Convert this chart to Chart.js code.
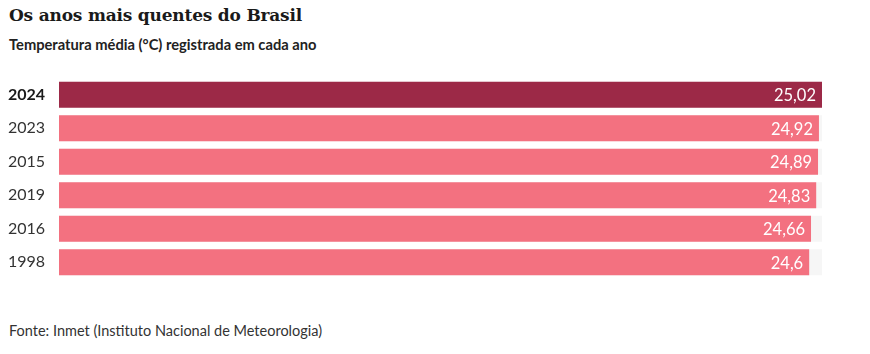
<!DOCTYPE html>
<html>
<head>
<meta charset="utf-8">
<script src="https://cdn.jsdelivr.net/npm/chart.js@4"></script>
<style>
  body { margin: 0; background: #fff; width: 870px; height: 354px; overflow: hidden; position: relative; }
  #title { position: absolute; left: 9px; top: 5px; font-family: "DejaVu Serif", serif; font-weight: bold; font-size: 17px; color: #1a1a1a; letter-spacing: -0.2px; }
  #subtitle { position: absolute; left: 9px; top: 35px; font-family: Lato, sans-serif; font-weight: bold; font-size: 14.7px; color: #222; }
  #source { position: absolute; left: 9px; top: 322px; font-family: Lato, sans-serif; font-size: 14.5px; color: #333; }
  #wrap { position: absolute; left: 0; top: 78px; width: 870px; height: 201px; }
</style>
</head>
<body>
<div id="title">Os anos mais quentes do Brasil</div>
<div id="subtitle">Temperatura média (°C) registrada em cada ano</div>
<div id="wrap"><canvas id="chart"></canvas></div>
<div id="source">Fonte: Inmet (Instituto Nacional de Meteorologia)</div>
<script>
// Data
const years = ["2024", "2023", "2015", "2019", "2016", "1998"];
const temps = [25.02, 24.92, 24.89, 24.83, 24.66, 24.6];
const labelsText = ["25,02", "24,92", "24,89", "24,83", "24,66", "24,6"];
const trackMax = 25.02;

const highlight = "#9c2947";
const normal = "#f37180";

// draws the value inside the right end of each bar
const valueLabels = {
  id: "valueLabels",
  afterDatasetsDraw(chart) {
    const ctx = chart.ctx;
    const meta = chart.getDatasetMeta(1);
    ctx.save();
    ctx.font = "16.5px Lato, sans-serif";
    ctx.fillStyle = "#fff";
    ctx.textAlign = "right";
    ctx.textBaseline = "middle";
    meta.data.forEach((bar, i) => {
      ctx.fillText(labelsText[i], bar.x - 6, bar.y + 1);
    });
    ctx.restore();
  }
};

new Chart(document.getElementById("chart"), {
  type: "bar",
  data: {
    labels: years,
    datasets: [
      {
        // light gray track behind the bars
        data: years.map(() => trackMax),
        backgroundColor: "#f6f6f6",
        order: 2
      },
      {
        data: temps,
        backgroundColor: years.map((y, i) => i === 0 ? highlight : normal),
        order: 1
      }
    ]
  },
  options: {
    indexAxis: "y",
    responsive: true,
    maintainAspectRatio: false,
    animation: false,
    layout: { padding: { left: 8, right: 48, top: 0, bottom: 0 } },
    datasets: { bar: { grouped: false, barPercentage: 0.77, categoryPercentage: 1 } },
    plugins: { legend: { display: false }, tooltip: { enabled: false } },
    scales: {
      x: { display: false, min: 0, max: trackMax },
      y: {
        grid: { display: false },
        border: { display: false },
        afterFit(scale) {
          scale.width = 51;
          scale.paddingTop = 0;
          scale.paddingBottom = 0;
        },
        ticks: {
          crossAlign: "far",
          color: (c) => c.index === 0 ? "#1a1a1a" : "#333",
          font: (c) => ({ family: "Lato, sans-serif", size: 16, weight: c.index === 0 ? "bold" : "normal" })
        }
      }
    }
  },
  plugins: [valueLabels]
});
</script>
</body>
</html>
